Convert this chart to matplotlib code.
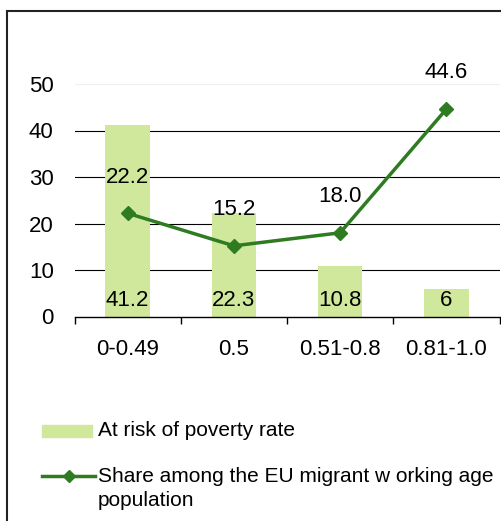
import matplotlib
matplotlib.use("Agg")
import matplotlib.pyplot as plt
from matplotlib.patches import Rectangle
from matplotlib.lines import Line2D

# Data
categories = ["0-0.49", "0.5", "0.51-0.8", "0.81-1.0"]
poverty_rate = [41.2, 22.3, 10.8, 6]
migrant_share = [22.2, 15.2, 18.0, 44.6]
bar_labels = ["41.2", "22.3", "10.8", "6"]
line_labels = ["22.2", "15.2", "18.0", "44.6"]
legend_labels = ["At risk of poverty rate",
                 "Share among the EU migrant w orking age", "population"]

BAR_COLOR = "#D0E89B"
LINE_COLOR = "#2E7B22"
FONT = "Liberation Sans"
W, H = 501, 521
FS = 16
LFS = 15

plt.rcParams["font.family"] = [FONT, "DejaVu Sans"]

fig = plt.figure(figsize=(W / 100, H / 100), dpi=100)


def fx(px):
    return px / W


def fy(py):
    return 1 - py / H


ax = fig.add_axes([fx(74.5), fy(316.5), fx(499.5) - fx(74.5), fy(84) - fy(316.5)])

x = list(range(len(categories)))
ax.bar(x, poverty_rate, width=0.42, color=BAR_COLOR, zorder=2)
ax.plot(x, migrant_share, color=LINE_COLOR, lw=2.5, marker="D", ms=7,
        zorder=3, clip_on=False)

ax.set_xlim(-0.5, len(categories) - 0.5)
ax.set_ylim(0, 50)
ax.set_yticks([0, 10, 20, 30, 40, 50])

# horizontal gridlines
for v in [10, 20, 30, 40]:
    ax.axhline(v, color="black", lw=0.8, zorder=1)
ax.axhline(50, color="#EFEFEF", lw=0.8, zorder=1)

for s in ["left", "top", "right"]:
    ax.spines[s].set_visible(False)
ax.spines["bottom"].set_linewidth(1.0)
ax.spines["bottom"].set_zorder(4)

ax.tick_params(axis="y", length=0, pad=15, labelsize=FS)
ax.set_xticks([i - 0.5 for i in range(len(categories) + 1)])
ax.set_xticklabels([])
ax.set_xticks(x, minor=True)
ax.set_xticklabels(categories, minor=True)
ax.tick_params(axis="x", which="major", length=5, width=1.0, direction="out")
ax.tick_params(axis="x", which="minor", length=0, pad=16.5, labelsize=FS)

# value labels
for i, (v, lab) in enumerate(zip(poverty_rate, bar_labels)):
    ax.annotate(lab, (i, 0), xytext=(0, 11.5), textcoords="offset points",
                ha="center", va="center", fontsize=FS, zorder=5)
for i, (v, lab) in enumerate(zip(migrant_share, line_labels)):
    ax.annotate(lab, (i, v), xytext=(0, 26), textcoords="offset points",
                ha="center", va="center", fontsize=FS, zorder=5,
                annotation_clip=False)

# legend
fig.patches.append(Rectangle((fx(42), fy(437)), fx(92) - fx(42), fy(425) - fy(437),
                             transform=fig.transFigure, color=BAR_COLOR))
fig.text(fx(98), fy(431), legend_labels[0], ha="left", va="center", fontsize=LFS)
fig.lines.append(Line2D([fx(42), fx(95)], [fy(476), fy(476)],
                        transform=fig.transFigure, color=LINE_COLOR, lw=2.5))
fig.lines.append(Line2D([fx(68.5)], [fy(476)], transform=fig.transFigure,
                        color=LINE_COLOR, marker="D", ms=6, lw=0))
fig.text(fx(98), fy(476), legend_labels[1], ha="left", va="center", fontsize=LFS)
fig.text(fx(98), fy(500), legend_labels[2], ha="left", va="center", fontsize=LFS)

# outer frame
fig.patches.append(Rectangle((fx(7), -0.2), 1.2, fy(11) + 0.2,
                             transform=fig.transFigure, fill=False,
                             edgecolor="#222222", lw=1.5, zorder=0))

fig.savefig("out.png", dpi=100)
